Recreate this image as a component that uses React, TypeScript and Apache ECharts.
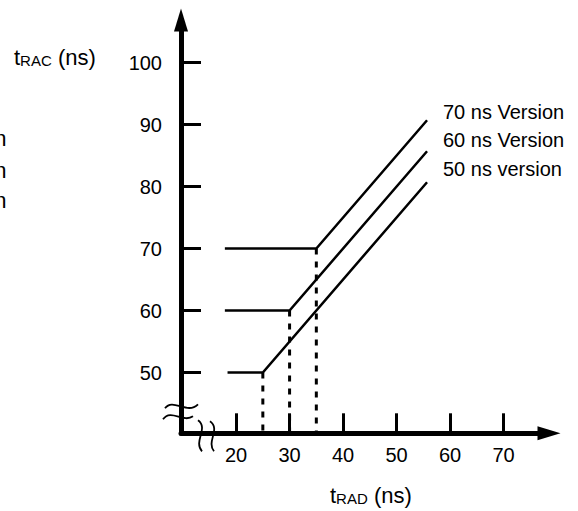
import React, { useEffect, useRef } from "react";
import * as echarts from "echarts";

// ---- data ----
const xTicks = [20, 30, 40, 50, 60, 70];
const yTicks = [50, 60, 70, 80, 90, 100];
const versionNames = ["70 ns Version", "60 ns Version", "50 ns version"];
const v70: number[][] = [[17.9, 70], [35, 70], [55.7, 90.7]];
const v60: number[][] = [[17.9, 60], [30, 60], [55.7, 85.7]];
const v50: number[][] = [[18.4, 50], [25, 50], [55.7, 80.7]];
const kneeX = [35, 30, 25];
const kneeY = [70, 60, 50];
const X_MIN = 9.7;
const X_MAX = 78.5;
const Y_MIN = 40.2;
const Y_MAX = 106.86;

const FONT = "'Liberation Sans', Arial, Helvetica, sans-serif";

export default function App() {
  const ref = useRef<HTMLDivElement>(null);

  useEffect(() => {
    const chart = echarts.init(ref.current as HTMLDivElement, null, { renderer: "svg" });

    const solid = (name: string, data: number[][]) => ({
      type: "line",
      name,
      data,
      symbol: "none",
      silent: true,
      z: 3,
      lineStyle: { color: "#000", width: 2.5, cap: "butt", join: "miter" },
    });
    const dotted = kneeX.map((x, i) => ({
      type: "line",
      data: [[x, kneeY[i]], [x, Y_MIN]],
      symbol: "none",
      silent: true,
      z: 2,
      lineStyle: { color: "#000", width: 3, type: [6, 7], cap: "butt" },
    }));

    const axisCommon = {
      type: "value",
      splitLine: { show: false },
    };

    chart.setOption({
      animation: false,
      textStyle: { fontFamily: FONT, color: "#000" },
      grid: { left: 181, right: 29, top: 20, bottom: 77.7, containLabel: false },
      xAxis: {
        ...axisCommon,
        min: X_MIN,
        max: X_MAX,
        axisLine: {
          show: true,
          onZero: false,
          symbol: ["none", "triangle"],
          symbolSize: [14, 23],
          lineStyle: { color: "#000", width: 5 },
        },
        axisTick: {
          show: true,
          inside: true,
          length: 20,
          customValues: xTicks,
          lineStyle: { color: "#000", width: 3 },
        },
        axisLabel: {
          customValues: xTicks,
          margin: 12,
          fontSize: 20,
          color: "#000",
          fontFamily: FONT,
        },
      },
      yAxis: {
        ...axisCommon,
        min: Y_MIN,
        max: Y_MAX,
        axisLine: {
          show: true,
          onZero: false,
          symbol: ["none", "triangle"],
          symbolSize: [14, 23],
          lineStyle: { color: "#000", width: 5 },
        },
        axisTick: {
          show: true,
          inside: true,
          length: 20,
          customValues: yTicks,
          lineStyle: { color: "#000", width: 3 },
        },
        axisLabel: {
          customValues: yTicks,
          margin: 19,
          fontSize: 20,
          color: "#000",
          fontFamily: FONT,
        },
      },
      series: [
        solid(versionNames[0], v70),
        solid(versionNames[1], v60),
        solid(versionNames[2], v50),
        ...dotted,
      ],
    });

    const origin = chart.convertToPixel({ gridIndex: 0 }, [X_MIN, Y_MIN]) as number[];
    const ox = origin[0];
    const oy = origin[1];

    const curve = (
      x1: number, y1: number, c1x: number, c1y: number,
      c2x: number, c2y: number, x2: number, y2: number
    ) => ({
      type: "bezierCurve",
      z: 100,
      silent: true,
      shape: {
        x1: ox + x1, y1: oy + y1,
        cpx1: ox + c1x, cpy1: oy + c1y,
        cpx2: ox + c2x, cpy2: oy + c2y,
        x2: ox + x2, y2: oy + y2,
      },
      style: { stroke: "#000", lineWidth: 1.8, fill: null },
    });

    const titleRich = {
      t: { fontSize: 22, lineHeight: 22, verticalAlign: "bottom", fontFamily: FONT, fill: "#000" },
      s: { fontSize: 15, lineHeight: 17.1, verticalAlign: "bottom", fontFamily: FONT, fill: "#000" },
      n: { fontSize: 22, lineHeight: 22, verticalAlign: "bottom", fontFamily: FONT, fill: "#000" },
    };

    const labelYs = [112, 140.3, 168.7];
    const fragYs = [138, 170, 200];

    chart.setOption({
      graphic: [
        {
          type: "text",
          x: 14,
          y: 57,
          silent: true,
          style: {
            text: "{t|t}{s|RAC}{n| (ns)}",
            rich: titleRich,
            align: "left",
            verticalAlign: "middle",
          },
        },
        {
          type: "text",
          x: 330,
          y: 495,
          silent: true,
          style: {
            text: "{t|t}{s|RAD}{n| (ns)}",
            rich: titleRich,
            align: "left",
            verticalAlign: "middle",
          },
        },
        ...versionNames.map((name, i) => ({
          type: "text",
          x: 443,
          y: labelYs[i],
          silent: true,
          style: {
            text: name,
            fontSize: 20,
            fontFamily: FONT,
            fill: "#000",
            align: "left",
            verticalAlign: "middle",
          },
        })),
        ...fragYs.map((y) => ({
          type: "text",
          x: 6.5,
          y,
          silent: true,
          style: {
            text: "n",
            fontSize: 22,
            fontFamily: FONT,
            fill: "#000",
            align: "right",
            verticalAlign: "middle",
          },
        })),
        // y-axis break marks
        curve(-16, -25, -8, -36, 6, -18, 17, -29),
        curve(-18, -14, -10, -25, 2, -10, 12, -17),
        // x-axis break marks
        curve(17, -13, 28, -5, 12, 8, 21, 18),
        curve(29, -12, 40, -4, 25, 8, 33, 18),
      ],
    });

    return () => {
      chart.dispose();
    };
  }, []);

  return (
    <div
      ref={ref}
      style={{ position: "fixed", left: 0, top: 0, width: 578, height: 511, background: "#fff" }}
    />
  );
}
